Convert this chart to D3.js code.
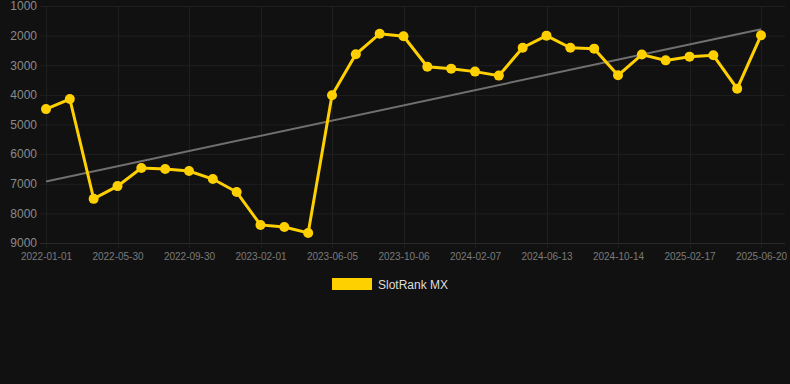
<!DOCTYPE html>
<html>
<head>
<meta charset="utf-8">
<script src="https://cdn.jsdelivr.net/npm/d3@7"></script>
<style>
  html, body { margin: 0; padding: 0; background: #111111; }
  svg { display: block; }
  text { font-family: "Liberation Sans", Arial, sans-serif; }
</style>
</head>
<body>
<div id="container"></div>
<script>
//---------- DATA ----------//
const dates = [
  "2022-01-01", "2022-02-15", "2022-04-10", "2022-05-30", "2022-07-10", "2022-08-20",
  "2022-09-30", "2022-11-10", "2022-12-20", "2023-02-01", "2023-03-14", "2023-04-25",
  "2023-06-05", "2023-07-16", "2023-08-26", "2023-10-06", "2023-11-16", "2023-12-27",
  "2024-02-07", "2024-03-20", "2024-05-01", "2024-06-13", "2024-07-24", "2024-09-03",
  "2024-10-14", "2024-11-24", "2025-01-06", "2025-02-17", "2025-03-30", "2025-05-10",
  "2025-06-20"
];
const ranks = [
  4480, 4140, 7510, 7080, 6470, 6500,
  6570, 6840, 7280, 8390, 8460, 8660,
  4010, 2630, 1935, 2020, 3050, 3115,
  3215, 3350, 2410, 2000, 2410, 2440,
  3340, 2640, 2835, 2710, 2665, 3790,
  1990
];
const yTicks = [1000, 2000, 3000, 4000, 5000, 6000, 7000, 8000, 9000];
const seriesName = "SlotRank MX";

//---------- SVG ----------//
const width = 790;
const height = 384;
const plot = { left: 46, right: 761, top: 6, bottom: 243 };

const svg = d3.select("div#container")
  .append("svg")
  .attr("width", width)
  .attr("height", height);

//---------- SCALES ----------//
const xScale = d3.scalePoint().domain(dates).range([plot.left, plot.right]);
const yScale = d3.scaleLinear().domain([1000, 9000]).range([plot.top, plot.bottom]);

const labelDates = dates.filter((d, i) => i % 3 === 0);

//---------- GRID ----------//
svg.append("g")
  .selectAll("line")
  .data(yTicks)
  .join("line")
  .attr("x1", 40)
  .attr("x2", 785)
  .attr("y1", d => yScale(d) + 0.5)
  .attr("y2", d => yScale(d) + 0.5)
  .attr("stroke", d => d === 9000 ? "#2a2a2a" : "#1f1f1f")
  .attr("stroke-width", 1);

svg.append("g")
  .selectAll("line")
  .data(labelDates)
  .join("line")
  .attr("x1", d => Math.round(xScale(d)) + 0.5)
  .attr("x2", d => Math.round(xScale(d)) + 0.5)
  .attr("y1", plot.top)
  .attr("y2", plot.bottom + 5)
  .attr("stroke", "#1f1f1f")
  .attr("stroke-width", 1);

//---------- AXES ----------//
const yAxis = d3.axisLeft(yScale).tickValues(yTicks).tickFormat(d3.format("d"))
  .tickSize(0).tickPadding(0);
svg.append("g")
  .attr("transform", "translate(37,0)")
  .call(yAxis)
  .call(g => g.select(".domain").remove())
  .selectAll("text")
  .attr("fill", "#8a8a8a")
  .style("font-size", "12px");

const xAxis = d3.axisBottom(xScale).tickValues(labelDates).tickSize(0).tickPadding(0);
svg.append("g")
  .attr("transform", `translate(0,${plot.bottom + 10})`)
  .call(xAxis)
  .call(g => g.select(".domain").remove())
  .selectAll("text")
  .attr("fill", "#7a7a7a")
  .style("font-size", "10px");

//---------- TREND ----------//
// least squares fit of rank against point index
const n = ranks.length;
const meanX = d3.mean(ranks, (d, i) => i);
const meanY = d3.mean(ranks);
const slope = d3.sum(ranks, (d, i) => (i - meanX) * (d - meanY)) /
              d3.sum(ranks, (d, i) => (i - meanX) * (i - meanX));
const intercept = meanY - slope * meanX;

svg.append("line")
  .attr("x1", xScale(dates[0]))
  .attr("y1", yScale(intercept))
  .attr("x2", xScale(dates[n - 1]))
  .attr("y2", yScale(intercept + slope * (n - 1)))
  .attr("stroke", "#707070")
  .attr("stroke-width", 2);

//---------- LINE ----------//
const points = dates.map((d, i) => ({ date: d, rank: ranks[i] }));

svg.append("path")
  .datum(points)
  .attr("d", d3.line()
    .x(d => xScale(d.date))
    .y(d => yScale(d.rank)))
  .attr("fill", "none")
  .attr("stroke", "#FFD000")
  .attr("stroke-width", 3);

svg.selectAll("circle")
  .data(points)
  .join("circle")
  .attr("cx", d => xScale(d.date))
  .attr("cy", d => yScale(d.rank))
  .attr("r", 5)
  .attr("fill", "#FFD000");

//---------- LEGEND ----------//
const legend = svg.append("g").attr("transform", "translate(332,278)");
legend.append("rect")
  .attr("width", 40)
  .attr("height", 12)
  .attr("fill", "#FFD000");
legend.append("text")
  .attr("x", 46)
  .attr("y", 10.5)
  .attr("fill", "#dddddd")
  .style("font-size", "12px")
  .text(seriesName);
</script>
</body>
</html>
